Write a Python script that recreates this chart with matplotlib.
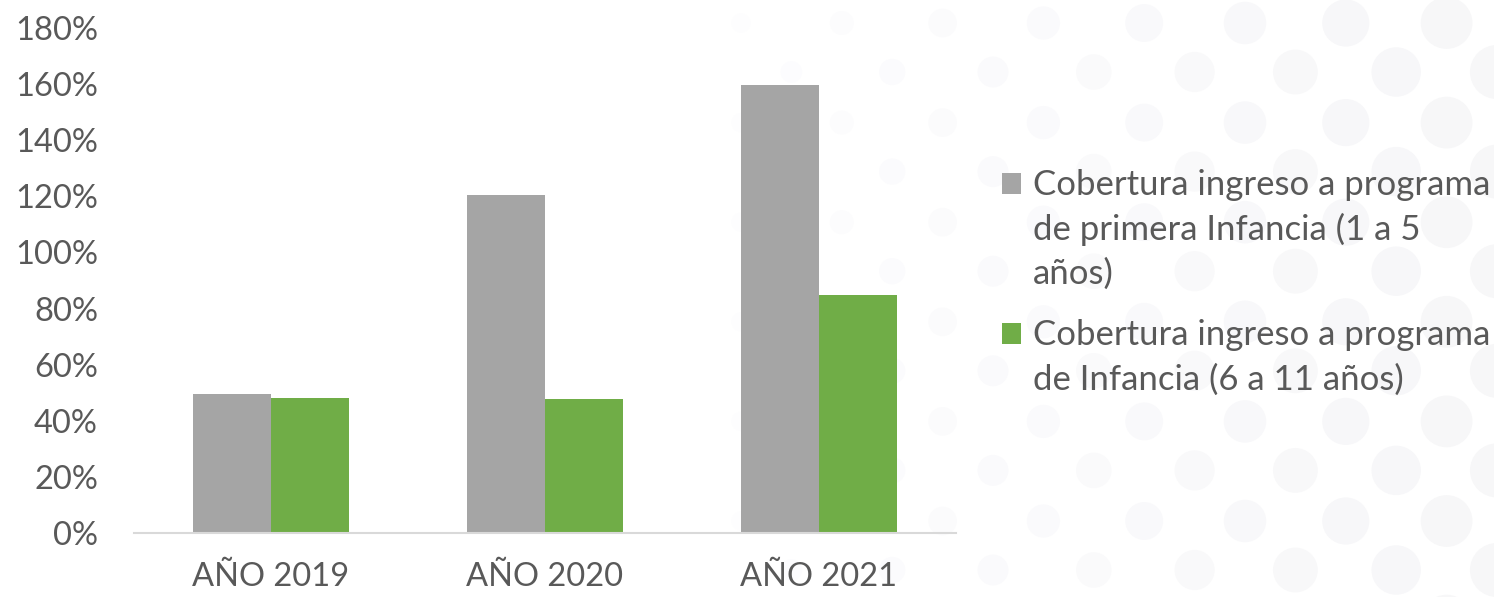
import matplotlib
matplotlib.use("Agg")
import matplotlib.pyplot as plt
from matplotlib.patches import Circle, Rectangle
import numpy as np

categories = ["AÑO 2019", "AÑO 2020", "AÑO 2021"]
primera_infancia = [49.5, 120.3, 159.7]
infancia = [48.0, 47.8, 84.7]
series_labels = [
    ["Cobertura ingreso a programa", "de primera Infancia (1 a 5", "años)"],
    ["Cobertura ingreso a programa", "de Infancia (6 a 11 años)"],
]
yticks = list(range(0, 181, 20))

GRAY = "#a5a5a5"
GREEN = "#70ad47"
TEXT = "#595959"

plt.rcParams["font.family"] = ["Lato", "DejaVu Sans"]

W, H = 1494, 597
fig = plt.figure(figsize=(W / 100, H / 100), dpi=100)

# decorative dotted background + legend, in pixel coordinates
bg = fig.add_axes([0, 0, 1, 1], zorder=0)
bg.set_xlim(0, W)
bg.set_ylim(H, 0)
bg.axis("off")
step = 50.4
for i in range(16):
    cx = 741 + i * step
    offset = 23 if i % 2 == 0 else 72
    for j in range(7):
        cy = offset + j * 2 * 49.8
        r = 12 + (cx - 843) * 0.023
        fade = min(1.0, max(0.0, (cx - 700) / 750))
        shade = 0.992 - 0.025 * fade
        bg.add_patch(Circle((cx, cy), r, color=(shade, shade, min(1, shade + 0.006)), lw=0))

ax = fig.add_axes([134 / W, 1 - 533 / H, (956 - 134) / W, (533 - 28) / H], zorder=1)
ax.patch.set_alpha(0)

x = np.arange(len(categories))
w = 0.285
ax.bar(x - w / 2, primera_infancia, w, color=GRAY)
ax.bar(x + w / 2, infancia, w, color=GREEN)

ax.set_xlim(-0.5, 2.5)
ax.set_ylim(0, 180)
ax.set_yticks(yticks)
ax.set_yticklabels([f"{v}%" for v in yticks])
ax.set_xticks(x)
ax.set_xticklabels(categories)
ax.tick_params(axis="both", length=0, labelsize=23.5, labelcolor=TEXT)
ax.tick_params(axis="y", pad=26)
ax.tick_params(axis="x", pad=21)
for s in ["top", "right", "left"]:
    ax.spines[s].set_visible(False)
ax.spines["bottom"].set_color("#d9d9d9")
ax.spines["bottom"].set_linewidth(1.5)

# legend: square marker beside the first line of each wrapped label
legend_top = [195, 345]
line_gap = 44.5
for color, lines, base in zip([GRAY, GREEN], series_labels, legend_top):
    bg.add_patch(Rectangle((1002, base - 22), 19, 21, color=color, lw=0))
    for k, line in enumerate(lines):
        bg.text(1033, base + k * line_gap, line, fontsize=25, color=TEXT, va="baseline", ha="left")

fig.savefig("out.png", dpi=100)
